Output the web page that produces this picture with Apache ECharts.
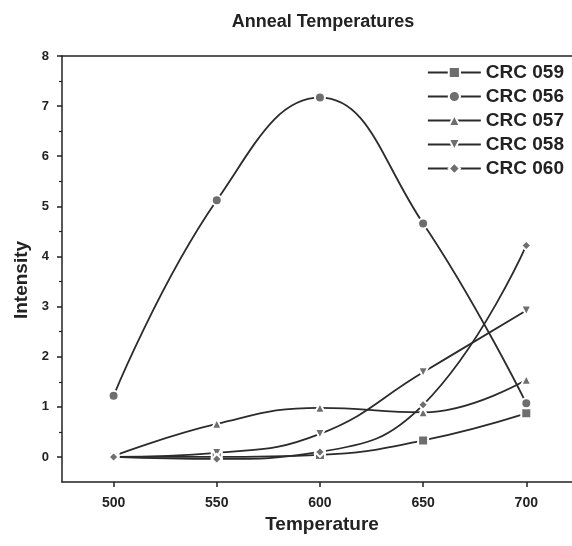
<!DOCTYPE html>
<html><head><meta charset="utf-8">
<script src="https://cdn.jsdelivr.net/npm/echarts@6/dist/echarts.min.js"></script>
<style>html,body{margin:0;padding:0;background:#fff}#c{width:572px;height:546px}</style>
</head><body><div id="c"></div>
<script>
const temperatures = [500, 550, 600, 650, 700];
const crc059 = [0.0, 0.0, 0.04, 0.33, 0.87];
const crc056 = [1.22, 5.12, 7.17, 4.66, 1.07];
const crc057 = [0.02, 0.66, 0.98, 0.89, 1.54];
const crc058 = [0.0, 0.08, 0.46, 1.69, 2.92];
const crc060 = [0.0, -0.04, 0.1, 1.04, 4.22];
const xTicks = [500, 550, 600, 650, 700];
const yTicks = [0, 1, 2, 3, 4, 5, 6, 7, 8];
const yMinorTicks = [0.5, 1.5, 2.5, 3.5, 4.5, 5.5, 6.5, 7.5];

const FONT = '"Liberation Sans", Arial, sans-serif';
const pair = (vals) => temperatures.map((t, i) => [t, vals[i]]);
function mk(name, vals, symbol, rot) {
  return {
    name, type: 'line', data: pair(vals), smooth: 0.45,
    symbol, symbolSize: 10, symbolRotate: rot || 0,
    lineStyle: { color: '#2b2b2b', width: 1.8 },
    itemStyle: { color: '#6e6e6e', borderColor: '#fff', borderWidth: 2 },
    xAxisIndex: 0, yAxisIndex: 0, z: 3
  };
}
const chart = echarts.init(document.getElementById('c'));
chart.setOption({
  animation: false,
  backgroundColor: '#fff',
  title: { text: 'Anneal Temperatures', left: 318, textAlign: 'center', top: 8,
    textStyle: { fontFamily: FONT, fontSize: 18, fontWeight: 'bold', color: '#222' } },
  legend: {
    orient: 'vertical', right: 8, top: 63, padding: 0, itemWidth: 53, itemHeight: 14, itemGap: 5,
    textStyle: { fontFamily: FONT, fontSize: 19, fontWeight: 'bold', color: '#222' },
    data: ['CRC 059', 'CRC 056', 'CRC 057', 'CRC 058', 'CRC 060']
  },
  grid: { left: 62, top: 56, width: 520, height: 426, outerBoundsMode: 'none', containLabel: false },
  xAxis: [{
    type: 'value', min: 475, max: 727,
    name: 'Temperature', nameLocation: 'middle', nameGap: 30,
    nameTextStyle: { fontFamily: FONT, fontSize: 19, fontWeight: 'bold', color: '#222' },
    axisLine: { show: true, onZero: false, lineStyle: { color: '#222', width: 1.5 } },
    axisTick: { show: true, inside: false, length: 5, customValues: xTicks, lineStyle: { color: '#222', width: 1.5 } },
    axisLabel: { customValues: xTicks, margin: 14, fontFamily: FONT, fontSize: 14, fontWeight: 'bold', color: '#222' },
    splitLine: { show: false }
  }, {
    type: 'value', min: 475, max: 727, position: 'top',
    axisLine: { show: true, onZero: false, lineStyle: { color: '#222', width: 1.5 } },
    axisTick: { show: false }, axisLabel: { show: false }, splitLine: { show: false }
  }],
  yAxis: [{
    type: 'value', min: -0.5, max: 8,
    name: 'Intensity', nameLocation: 'middle', nameGap: 31, nameRotate: 90,
    nameTextStyle: { fontFamily: FONT, fontSize: 19, fontWeight: 'bold', color: '#222', padding: [0, 22, 0, 0] },
    axisLine: { show: true, onZero: false, lineStyle: { color: '#222', width: 1.5 } },
    axisTick: { show: true, length: 5, customValues: yTicks, lineStyle: { color: '#222', width: 1.5 } },
    axisLabel: { customValues: yTicks, margin: 13, fontFamily: FONT, fontSize: 13, fontWeight: 'bold', color: '#222' },
    splitLine: { show: false }
  }, {
    type: 'value', min: -0.5, max: 8, position: 'left',
    axisLine: { show: false, onZero: false },
    axisTick: { show: true, length: 3, customValues: yMinorTicks, lineStyle: { color: '#222', width: 1.2 } },
    axisLabel: { show: false }, splitLine: { show: false }
  }],
  series: [
    mk('CRC 059', crc059, 'rect'),
    mk('CRC 056', crc056, 'circle'),
    mk('CRC 057', crc057, 'triangle'),
    mk('CRC 058', crc058, 'triangle', 180),
    mk('CRC 060', crc060, 'diamond')
  ]
});
</script></body></html>
